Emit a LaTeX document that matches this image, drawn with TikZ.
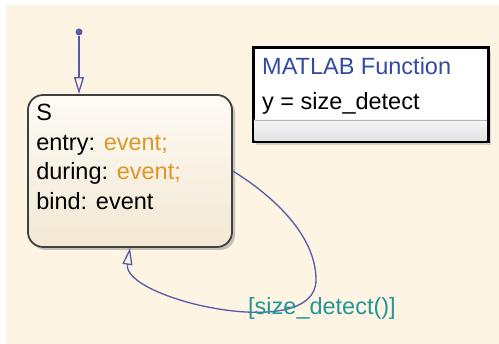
\documentclass[tikz,border=0pt]{standalone}
\usepackage{fontspec}
\setmainfont{Liberation Sans}
\usetikzlibrary{arrows.meta,positioning,shadows}

\definecolor{chartbg}{RGB}{254,244,227}
\definecolor{statetop}{RGB}{254,251,245}
\definecolor{statebot}{RGB}{242,232,211}
\definecolor{actcol}{RGB}{222,150,40}
\definecolor{guardcol}{RGB}{35,150,150}
\definecolor{fcnblue}{RGB}{50,75,160}
\definecolor{transcol}{RGB}{85,90,170}

\begin{document}
\begin{tikzpicture}[x=1pt,y=1pt,
  trans/.style={draw=transcol,line width=1.3pt,-{Triangle[open,length=17pt,width=10pt,fill=chartbg]}},
  statebox/.style={draw=black!75,line width=1.8pt,rounded corners=15pt,top color=statetop,bottom color=statebot,
    minimum width=204pt,minimum height=152pt,drop shadow={shadow xshift=3pt,shadow yshift=-3pt,opacity=.45}},
  fcnbox/.style={draw=black,line width=3pt,fill=white,minimum width=235pt,minimum height=94pt,
    drop shadow={shadow xshift=3pt,shadow yshift=-3pt,opacity=.3}},
  chart text/.style={font=\fontsize{23.5}{29.5}\selectfont,inner sep=0pt}]
\useasboundingbox (0,0) rectangle (499,344);
\fill[white] (0,0) rectangle (499,344);
\fill[chartbg] (6,0) rectangle (499,339);

% state S
\node[statebox] (S) at (130,173) {};
\node[chart text,align=left,below right=10pt and 9pt of S.north west] (Stext)
  {S\\entry: \textcolor{actcol}{event;}\\during: \textcolor{actcol}{event;}\\bind: event};

% default transition
\node[circle,fill=transcol,inner sep=0pt,minimum size=7pt] (init) at (79,312) {};
\draw[trans] (init) -- (init |- S.north);

% self loop
\draw[trans] (S.east) .. controls +(40,-25) and +(0,45) .. (316,64)
  .. controls (316,0) and (122,45) .. (S.south);
\node[chart text,text=guardcol,anchor=base west] (guard) at (248,29) {[size\_detect()]};

% MATLAB function box
\node[fcnbox] (fcn) at (370.5,249) {};
\fill[top color=gray!8,bottom color=gray!22] (254.5,203.5) rectangle (486.5,224);
\draw[gray!60,line width=.8pt] (254.5,224) -- (486.5,224);
\node[chart text,text=fcnblue,anchor=base west] (fcntitle) at (262,269) {MATLAB Function};
\node[chart text,anchor=base west] (fcnsig) at (262,234) {y = size\_detect};
\end{tikzpicture}
\end{document}
